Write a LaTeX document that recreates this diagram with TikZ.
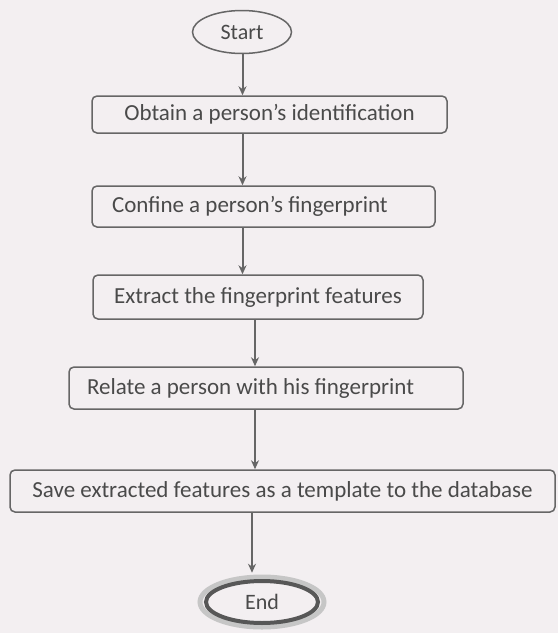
\documentclass[tikz,border=0pt]{standalone}
\usepackage{fontspec}
\setmainfont{Carlito}
\usetikzlibrary{arrows.meta,shapes.geometric}
\definecolor{ink}{HTML}{4A4A4A}
\definecolor{edge}{HTML}{666666}
\definecolor{paper}{HTML}{F3EFF1}
\tikzset{
  procbox/.style={draw=edge,line width=1.5pt,rounded corners=5pt,inner sep=0pt,text=ink,font=\fontsize{23}{27}\selectfont},
  termnode/.style={ellipse,draw=edge,line width=1.5pt,inner sep=0pt,text=ink,font=\fontsize{22}{26}\selectfont},
  flowarrow/.style={draw=edge,line width=2pt,-{Stealth[length=9pt,width=8pt]}}
}
\begin{document}
\begin{tikzpicture}[x=1pt,y=-1pt]
    \fill[paper] (0,0) rectangle (558,633);
    \useasboundingbox (0,0) rectangle (558,633);
    \node[termnode,minimum width=99pt,minimum height=43pt] (start) at (242,32) {Start};
    \node[procbox,minimum width=355pt,minimum height=37pt] (obtain) at (269.5,114.5) {Obtain a person’s identification};
    \node[procbox,minimum height=41pt,text width=303pt,inner xsep=20pt,align=flush left] (confine) at (263.5,206.5) {Confine a person’s fingerprint};
    \node[procbox,minimum width=330pt,minimum height=44pt] (extract) at (258,297) {Extract the fingerprint features};
    \node[procbox,minimum height=42pt,text width=358pt,inner xsep=18pt,align=flush left] (relate) at (266,388) {Relate a person with his fingerprint};
    \node[procbox,minimum width=545pt,minimum height=42pt] (save) at (282.5,491) {Save extracted features as a template to the database};
    \draw[gray!45,line width=5pt] (262,602) ellipse (62pt and 25pt);
    \node[termnode,draw=edge!85!black,line width=4pt,minimum width=112pt,minimum height=42pt] (end) at (262,602) {End};
    \coordinate (colA) at (242.5,0);
    \coordinate (colB) at (255,0);
    \coordinate (colC) at (252,0);
    \draw[flowarrow] (start.south -| colA) -- (obtain.north -| colA);
    \draw[flowarrow] (obtain.south -| colA) -- (confine.north -| colA);
    \draw[flowarrow] (confine.south -| colA) -- (extract.north -| colA);
    \draw[flowarrow] (extract.south -| colB) -- (relate.north -| colB);
    \draw[flowarrow] (relate.south -| colB) -- (save.north -| colB);
    \draw[flowarrow] (save.south -| colC) -- ++(0,60);
\end{tikzpicture}
\end{document}
